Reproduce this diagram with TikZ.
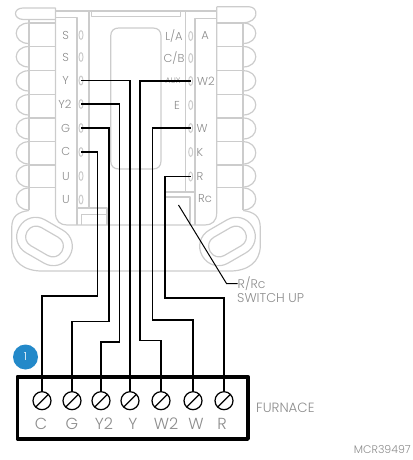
\documentclass[tikz,border=0pt]{standalone}
\usepackage{fontspec}
\setmainfont{Poppins Light}
\definecolor{body}{HTML}{CCCCCC}
\definecolor{txt}{HTML}{8C8C8C}
\definecolor{badge}{HTML}{2389C9}
\tikzset{
  outline/.style={draw=body,line width=1.2pt,line join=round},
  lbl/.style={text=txt,inner sep=0pt,font=\fontsize{11.5}{11.5}\selectfont},
  sm/.style={text=txt,inner sep=0pt,font=\fontsize{8}{8}\selectfont},
  wire/.style={draw=black,line width=1.25pt,line join=miter},
  term/.style={circle,draw=black,line width=1.25pt,minimum size=18pt,inner sep=0pt,fill=white},
  conn/.style={ellipse,draw=body,line width=1pt,minimum width=4pt,minimum height=9pt,inner sep=0pt},
  pad/.style={inner sep=0pt,minimum size=0pt}
}
\usetikzlibrary{shapes.geometric}
\begin{document}
\begin{tikzpicture}[x=1pt,y=-1pt]
\useasboundingbox (0,0) rectangle (412,460);
% tabs
\draw[outline] (55.5,8) -- (23,8) .. controls (13,8) and (13,19) .. (23,19.5) -- (55.5,19.5);
\draw[outline] (217,6.7) -- (249,6.7) .. controls (259,7) and (259,22) .. (244,22.7) -- (217,22.7);
% scallops left and right
\foreach \a/\b in {23/43.5,46.5/67,70.7/91,94.7/115,118/139,141.7/164,165/187,188/210}{
  \draw[outline] (29,\a) .. controls (12,\a) and (12,\b) .. (29,\b);
  \draw[outline] (243,\a) .. controls (260,\a) and (260,\b) .. (243,\b);
}
\foreach \y in {23,46.7,70.7,94.7,118,141.7,165,187.7}{
  \draw[outline] (29,\y) -- (55.5,\y);
  \draw[outline] (217,\y) -- (243,\y);
}
\draw[outline] (29,19.5) -- (29,210);
\draw[outline] (243,22.7) -- (243,210);
% base outline
\draw[outline] (29,210.5) .. controls (18,212) and (11.7,216) .. (11.7,228) -- (11.7,246)
  .. controls (12,262) and (24,271) .. (42,271) -- (230,271)
  .. controls (248,271) and (260,262) .. (260.3,246) -- (260.3,228)
  .. controls (260.3,216) and (254,212) .. (243,210.5);
% panels
\draw[outline] (55.5,8) -- (55.5,213) .. controls (55.5,221) and (60,225) .. (67,225) -- (205,225)
  .. controls (212,225) and (216.7,221) .. (216.7,213) -- (216.7,6.7);
\draw[outline] (55.5,17.5) -- (77,17.5) -- (77,225);
\draw[outline] (55.5,11) -- (216.7,11);
\draw[outline] (89,11) -- (89,208);
\draw[outline] (91.7,11) -- (91.7,16.7) -- (180.7,16.7) -- (180.7,11);
\draw[outline] (185.3,11) -- (185.3,192);
\draw[outline] (216.7,18.3) -- (195,18.3) -- (195,225);
\draw[outline] (118.7,28) -- (153,28) .. controls (158,28) and (161,31) .. (161,36) -- (161,161)
  .. controls (161,166) and (158,169) .. (153,169) -- (118.7,169) .. controls (113.7,169) and (110.7,166) .. (110.7,161)
  -- (110.7,36) .. controls (110.7,31) and (113.7,28) .. (118.7,28) -- cycle;
\draw[outline] (77,208) -- (107,208) -- (107,225);
\draw[outline] (81.7,225) -- (81.7,214.5) -- (106.7,214.5);
\draw[outline] (165.7,225) -- (165.7,192) -- (195,192);
\draw[outline] (165.7,197) -- (190,197) -- (190,225);
% screw holes
\begin{scope}[shift={(44.5,241.5)},rotate=-30,yscale=-1]
  \draw[outline,rounded corners=18.5pt] (-29,-19) rectangle (29,19);
  \draw[outline,rounded corners=10pt] (-20,-10.5) rectangle (20,10.5);
\end{scope}
\begin{scope}[shift={(227.5,241.5)},rotate=30,yscale=-1]
  \draw[outline,rounded corners=18.5pt] (-29,-19) rectangle (29,19);
  \draw[outline,rounded corners=10pt] (-20,-10.5) rectangle (20,10.5);
\end{scope}
% connector ovals
\foreach \n/\y in {s1/35,s2/57,y/80.5,yb/104,g/128,c/152,u1/176,u2/199.5}{
  \node[conn] (L\n) at (81,\y) {};
}
\foreach \n/\y in {la/36,cb/58,aux/81,e/105,w/128,k/152,r/176.5}{
  \node[conn] (R\n) at (190.7,\y) {};
}
% labels
\node[lbl] (t1) at (65.7,35) {S};
\node[lbl] (t2) at (65.7,57) {S};
\node[lbl] (t3) at (65.7,80) {Y};
\node[lbl] (t4) at (65,104.5) {Y2};
\node[lbl] (t5) at (65.7,128) {G};
\node[lbl] (t6) at (65.7,151) {C};
\node[lbl] (t7) at (66,177) {U};
\node[lbl] (t8) at (66,199.5) {U};
\node[lbl] (t9) at (174,36) {L/A};
\node[lbl] (t10) at (174,58) {C/B};
\node[sm] (t11) at (173,81) {AUX};
\node[lbl] (t12) at (177,105) {E};
\node[lbl] (t13) at (205,36) {A};
\node[lbl] (t14) at (206,81.5) {W2};
\node[lbl] (t15) at (202,128) {W};
\node[lbl] (t16) at (200,152) {K};
\node[lbl] (t17) at (200,176) {R};
\node[lbl] (t18) at (205,198.5) {Rc};
% furnace box
\draw[draw=black,line width=3.8pt,line join=round,fill=white] (17.5,376.7) rectangle (248,439);
% terminals
\foreach \n/\x/\t/\lx in {C/42/C/41,G/72/G/72,Yb/101/Y2/104,Y/130/Y/133,Wb/161/W2/166,W/193/W/196,R/224/R/222}{
  \node[term] (T\n) at (\x,400.7) {};
  \draw[draw=black,line width=1.25pt] (\x-6.4,407.1) -- (\x+6.4,394.3);
  \node[lbl,font=\fontsize{16}{16}\selectfont] (TL\n) at (\lx,424) {\t};
}
% wires
\draw[wire] (Ly.center) -- (130,80.5) -- (TY.north);
\draw[wire] (Raux.center) -- (140,81) -- (140,340.7) -- (161,340.7) -- (TWb.north);
\draw[wire] (Lyb.center) -- (119.3,104) -- (119.3,342) -- (101,342) -- (TYb.north);
\draw[wire] (Lg.center) -- (109,128) -- (109,321.7) -- (72,321.7) -- (TG.north);
\draw[wire] (Lc.center) -- (97.7,152) -- (97.7,296) -- (42,296) -- (TC.north);
\draw[wire] (Rw.center) -- (152.3,128) -- (152.3,320) -- (193,320) -- (TW.north);
\draw[wire] (Rr.center) -- (165,176.5) -- (165,298) -- (224,298) -- (TR.north);
% pointer
\coordinate (ptr) at (178.5,205);
\node[lbl,anchor=west,font=\fontsize{12.5}{12.5}\selectfont] (rrc) at (237.5,283.5) {R/Rc};
\node[lbl,anchor=west,font=\fontsize{12.8}{12.8}\selectfont] (sw) at (237,298.5) {SWITCH UP};
\draw[draw=black,line width=1pt] (ptr) -- (226.5,283.5) -- (rrc.west);
% others
\node[lbl,anchor=west,font=\fontsize{13.4}{13.4}\selectfont] (fur) at (256,408) {FURNACE};
\node[lbl,anchor=east,font=\fontsize{11}{11}\selectfont] (mcr) at (411,450) {MCR39497};
\node[circle,fill=badge,minimum size=25pt,inner sep=0pt,text=white,font=\fontsize{11}{11}\selectfont] (bd) at (25.5,357) {1};
\end{tikzpicture}
\end{document}
